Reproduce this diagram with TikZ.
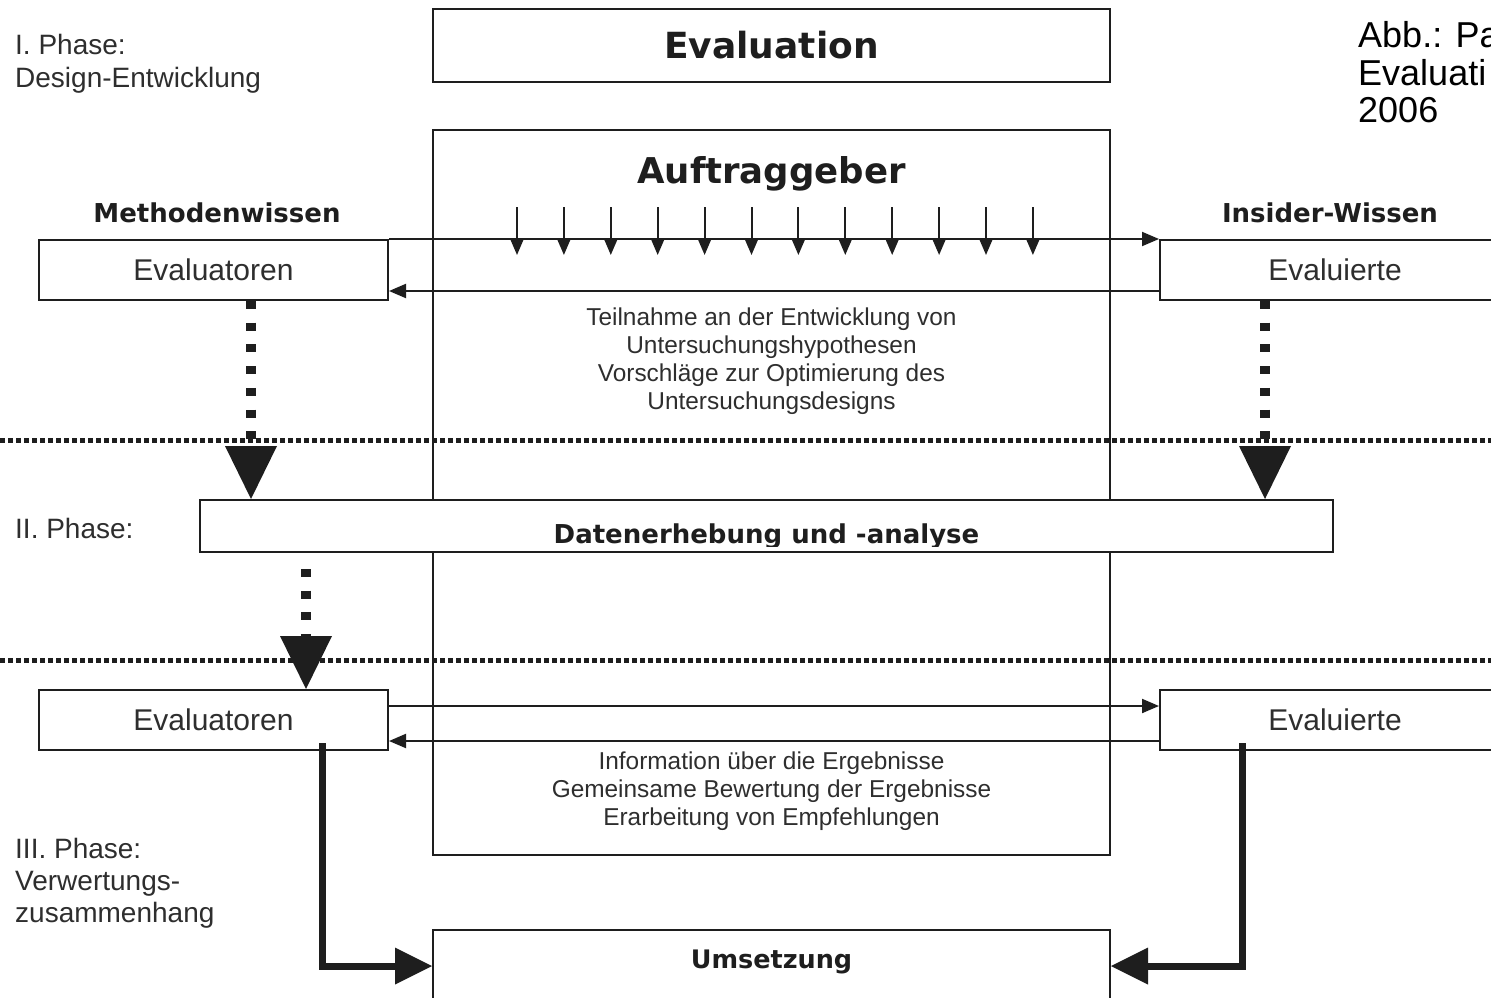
\documentclass[tikz,border=0pt]{standalone}
\usepackage{fontspec}
\setmainfont{Liberation Sans}
\newfontfamily\hdfont{DejaVu Sans}
\usetikzlibrary{arrows.meta,positioning}
\definecolor{ink}{HTML}{1E1E1E}
\definecolor{gtxt}{HTML}{2E2E2E}

\tikzset{
  box/.style={draw=ink,line width=2pt,inner sep=0pt},
  plain/.style={text=gtxt,inner sep=0pt,font=\fontsize{#1}{#1}\selectfont},
  plain/.default=30,
  head/.style={text=ink,inner sep=0pt,font=\hdfont\bfseries\fontsize{#1}{#1}\selectfont},
  head/.default=25.5,
  flow/.style={draw=ink,line width=2pt,-{Triangle[length=17pt,width=14pt]}},
  dotflow/.style={draw=ink,line width=10pt,dash pattern=on 8pt off 13.7pt,-{Triangle[length=53pt,width=52pt,line width=0pt]}},
  phaseline/.style={draw=ink,line width=5pt,dash pattern=on 5pt off 3pt},
  result/.style={draw=ink,line width=7pt,-{Triangle[length=37pt,width=37pt,line width=0pt]}},
}

\begin{document}
\begin{tikzpicture}[x=1pt,y=-1pt,line join=miter]
\useasboundingbox (0,0) rectangle (1491,998);
\fill[white] (0,0) rectangle (1491,998);
\clip (0,0) rectangle (1491,998);

% Phase I
\node[box,minimum width=677pt,minimum height=725pt] (auf) at (771.5,492.5) {};
\node[box,head=36,minimum width=677pt,minimum height=73pt] (eval) at (771.5,45.5) {Evaluation};
\node[head=35.5,anchor=base] (aufl) at (771.5,183) {Auftraggeber};
\node[head=26,anchor=base] (mw) at (217,222) {Methodenwissen};
\node[head=26,anchor=base] (iw) at (1330,222) {Insider-Wissen};

\node[box,plain,minimum width=349pt,minimum height=60pt] (ev1) at (213.5,270) {Evaluatoren};
\node[box,plain,minimum width=350pt,minimum height=60pt] (er1) at (1335,270) {Evaluierte};

\foreach \i in {0,...,11}
  \draw[flow] ({517+46.9*\i},207) -- ({517+46.9*\i},255);

\draw[flow] (ev1.north east) -- (er1.north west);
\draw[flow] ([yshift=10pt]er1.south west) -- ([yshift=10pt]ev1.south east);

\foreach \t [count=\i from 0] in {Teilnahme an der Entwicklung von,Untersuchungshypothesen,Vorschläge zur Optimierung des,Untersuchungsdesigns}
  \node[plain=24.4,anchor=base] (tn\i) at (771.5,{325+28*\i}) {\t};

\node[plain=28,anchor=base west] (p1a) at (15,55) {I. Phase:};
\node[plain=28,anchor=base west] (p1b) at (15,87) {Design-Entwicklung};

\draw[phaseline] (0,440) -- (1491,440);
\draw[phaseline] (0,660) -- (1491,660);

% Phase II
\node[box,fill=white,minimum width=1133pt,minimum height=52pt] (daten) at (766.5,526) {};
\begin{scope}
  \clip (200,500) rectangle (1333,546);
  \node[head=26,anchor=base] (datenl) at (766.5,543) {Datenerhebung und -analyse};
\end{scope}
\node[plain=28,anchor=base west] (p2) at (15,538) {II. Phase:};

\coordinate (d1) at ([xshift=37.5pt]ev1.south);
\coordinate (d2) at ([xshift=-70pt]er1.south);
\draw[dotflow] (d1) -- (d1 |- daten.north);
\draw[dotflow] (d2) -- (d2 |- daten.north);

% Phase III
\node[box,plain,minimum width=349pt,minimum height=60pt] (ev2) at (213.5,720) {Evaluatoren};
\node[box,plain,minimum width=350pt,minimum height=60pt] (er2) at (1335,720) {Evaluierte};

\coordinate (d3) at ([xshift=92.5pt]ev2.north);
\draw[dotflow,shorten <=16pt] (d3 |- daten.south) -- (d3);

\draw[flow] ([yshift=-17pt]ev2.north east) -- ([yshift=-17pt]er2.north west);
\draw[flow] ([yshift=10pt]er2.south west) -- ([yshift=10pt]ev2.south east);

\foreach \t [count=\i from 0] in {Information über die Ergebnisse,Gemeinsame Bewertung der Ergebnisse,Erarbeitung von Empfehlungen}
  \node[plain=24.4,anchor=base] (inf\i) at (771.5,{769+28*\i}) {\t};

\node[box,minimum width=677pt,minimum height=72pt] (ums) at (771.5,966) {};
\node[head,anchor=base] (umsl) at (771.5,968) {Umsetzung};

\coordinate (r1) at ([xshift=108.5pt,yshift=8pt]ev2.south);
\coordinate (r2) at ([xshift=-93pt,yshift=8pt]er2.south);
\draw[result] (r1) |- (ums.west);
\draw[result] (r2) |- (ums.east);

\node[plain=28,anchor=base west] (p3a) at (15,858) {III. Phase:};
\node[plain=28,anchor=base west] (p3b) at (15,890) {Verwertungs-};
\node[plain=28,anchor=base west] (p3c) at (15,922) {zusammenhang};

% Quelle
\node[plain=36,text=black,anchor=base west] (abb1) at (1358,48) {Abb.: Pa};
\node[plain=36,text=black,anchor=base west] (abb2) at (1358,85) {Evaluati};
\node[plain=36,text=black,anchor=base west] (abb3) at (1358,122) {2006};
\end{tikzpicture}
\end{document}
